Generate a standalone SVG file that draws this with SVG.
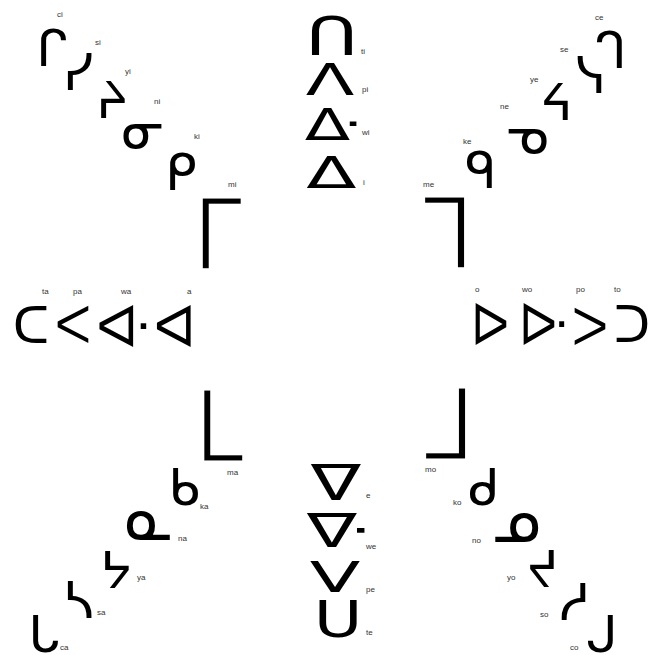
<svg xmlns="http://www.w3.org/2000/svg" width="652" height="655" viewBox="0 0 652 655">
<style>
.g{font-family:"DejaVu Sans",sans-serif;font-size:50px;fill:#000;text-anchor:middle}
.b{stroke:#fff;stroke-width:1.6px}
.l{font-family:"Liberation Sans",Arial,sans-serif;font-size:8px;fill:#333}
</style>
<rect width="652" height="655" fill="#fff"/>
<g id="top-left">
<text class="g" x="52" y="66">ᒋ</text><text class="l" x="57" y="17">ci</text>
<text class="g" x="78" y="90">ᓯ</text><text class="l" x="95" y="45">si</text>
<text class="g" x="112" y="118">ᔨ</text><text class="l" x="125" y="74">yi</text>
<text class="g" transform="translate(143,148) scale(1,1.1)">ᓂ</text><text class="l" x="154" y="104">ni</text>
<text class="g" x="181" y="190">ᑭ</text><text class="l" x="194" y="139">ki</text>
<text class="g b" transform="translate(217.5,270) scale(1.8,2)">ᒥ</text><text class="l" x="228" y="187">mi</text>
</g>
<g id="top">
<text class="g" transform="translate(332,55) scale(1.43,1.05)">ᑎ</text><text class="l" x="361" y="54">ti</text>
<text class="g" transform="translate(330,95) scale(1.42,0.89)">ᐱ</text><text class="l" x="362" y="92">pi</text>
<text class="g" transform="translate(332.5,140) scale(1.33,0.89)">ᐏ</text><text class="l" x="362" y="135">wi</text>
<text class="g" transform="translate(331.5,188) scale(1.47,0.87)">ᐃ</text><text class="l" x="363" y="185">i</text>
</g>
<g id="top-right">
<text class="g" x="611" y="68">ᒉ</text><text class="l" x="595" y="20">ce</text>
<text class="g" x="591" y="93">ᓭ</text><text class="l" x="560" y="52">se</text>
<text class="g" x="557" y="120">ᔦ</text><text class="l" x="530" y="82">ye</text>
<text class="g" transform="translate(527,153) scale(1,1.1)">ᓀ</text><text class="l" x="500" y="109">ne</text>
<text class="g" x="481" y="188">ᑫ</text><text class="l" x="463" y="144">ke</text>
<text class="g b" transform="translate(446.5,269) scale(1.85,2)">ᒣ</text><text class="l" x="423" y="187">me</text>
</g>
<g id="left">
<text class="g" x="31" y="343">ᑕ</text><text class="l" x="42" y="294">ta</text>
<text class="g" x="73" y="343">ᐸ</text><text class="l" x="73" y="294">pa</text>
<text class="g" transform="translate(124,347) scale(1.1,1.16)">ᐘ</text><text class="l" x="121" y="294">wa</text>
<text class="g" transform="translate(175,347) scale(1.1,1.16)">ᐊ</text><text class="l" x="187" y="294">a</text>
</g>
<g id="right">
<text class="g" transform="translate(490,345) scale(1,1.15)">ᐅ</text><text class="l" x="475" y="292">o</text>
<text class="g" transform="translate(544,345) scale(1,1.15)">ᐓ</text><text class="l" x="522" y="292">wo</text>
<text class="g" x="590" y="345">ᐳ</text><text class="l" x="576" y="292">po</text>
<text class="g" x="632" y="342">ᑐ</text><text class="l" x="614" y="292">to</text>
</g>
<g id="bottom-left">
<text class="g b" transform="translate(219,462) scale(1.8,2)">ᒪ</text><text class="l" x="227" y="475">ma</text>
<text class="g" x="184" y="505">ᑲ</text><text class="l" x="200" y="509">ka</text>
<text class="g" transform="translate(149,540) scale(1.13,1.28)">ᓇ</text><text class="l" x="178" y="541">na</text>
<text class="g" x="116" y="588">ᔭ</text><text class="l" x="137" y="580">ya</text>
<text class="g" x="78" y="618">ᓴ</text><text class="l" x="97" y="615">sa</text>
<text class="g" x="44" y="652">ᒐ</text><text class="l" x="60" y="650">ca</text>
</g>
<g id="bottom">
<text class="g" transform="translate(336,500) scale(1.5,0.97)">ᐁ</text><text class="l" x="366" y="498">e</text>
<text class="g" transform="translate(337.5,547) scale(1.5,0.92)">ᐍ</text><text class="l" x="366" y="549">we</text>
<text class="g" transform="translate(335,592) scale(1.48,0.84)">ᐯ</text><text class="l" x="366" y="592">pe</text>
<text class="g" transform="translate(338,637) scale(1.33,1)">ᑌ</text><text class="l" x="366" y="635">te</text>
</g>
<g id="bottom-right">
<text class="g b" transform="translate(447.5,460) scale(1.85,2)">ᒧ</text><text class="l" x="425" y="472">mo</text>
<text class="g" x="484" y="505">ᑯ</text><text class="l" x="453" y="505">ko</text>
<text class="g" transform="translate(516,542) scale(1.13,1.28)">ᓄ</text><text class="l" x="472" y="543">no</text>
<text class="g" x="543" y="587">ᔪ</text><text class="l" x="507" y="580">yo</text>
<text class="g" x="575" y="620">ᓱ</text><text class="l" x="540" y="617">so</text>
<text class="g" x="602" y="652">ᒍ</text><text class="l" x="570" y="650">co</text>
</g>
</svg>
